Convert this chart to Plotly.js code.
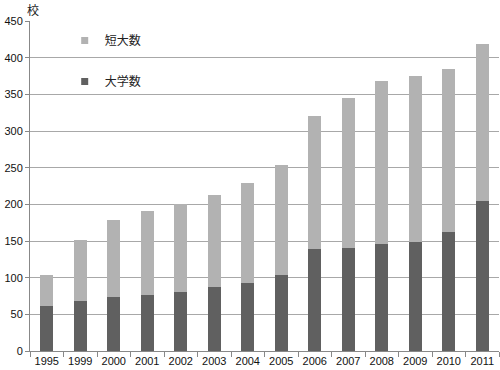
<!DOCTYPE html>
<html><head><meta charset="utf-8">
<script src="https://cdn.plot.ly/plotly-3.0.1.min.js"></script>
<style>body{margin:0}#c{width:500px;height:370px}</style>
</head><body><div id="c"></div>
<script>
const years = ['1995','1999','2000','2001','2002','2003','2004','2005','2006','2007','2008','2009','2010','2011'];
const univ = [62,68,74,77,81,87,93,103,139,140,146,148,162,204];
const junior = [41,84,104,114,120,126,136,151,181,205,222,227,222,214];
const yTicks = [0,50,100,150,200,250,300,350,400,450];

const font = {family:'"Liberation Sans", Arial, sans-serif', size:11, color:'#111'};
const cjk = {family:'"Noto Sans CJK JP", sans-serif', size:12, color:'#222'};
const data = [
  {type:'bar', x:years, y:univ, name:'大学数', marker:{color:'#606060', line:{width:0}}, width:0.4, showlegend:false},
  {type:'bar', x:years, y:junior, name:'短大数', marker:{color:'#b2b2b2', line:{width:0}}, width:0.4, showlegend:false},
  {type:'scatter', mode:'markers', x:[years[0]], y:[null], name:'大学数', legendgroup:'a', legendrank:2,
   marker:{symbol:'square', size:7, color:'#606060'}},
  {type:'scatter', mode:'markers', x:[years[0]], y:[null], name:'短大数', legendgroup:'b', legendrank:1,
   marker:{symbol:'square', size:7, color:'#b2b2b2'}}
];
const layout = {
  width:500, height:370, barmode:'stack',
  margin:{l:30, r:1, t:21, b:19},
  paper_bgcolor:'#fff', plot_bgcolor:'#fff',
  font:font, bargap:0.6,
  xaxis:{type:'category', range:[-0.5, years.length-0.5], autorange:false, tickangle:0,
         tickson:'boundaries', ticks:'outside', ticklen:5, tickcolor:'#888',
         showline:true, linecolor:'#888', linewidth:1, showgrid:false, tickfont:font, fixedrange:true},
  yaxis:{range:[0,450], autorange:false, tickvals:yTicks, ticks:'outside', ticklen:4, tickcolor:'#888',
         showline:true, linecolor:'#888', gridcolor:'#a8a8a8', gridwidth:1, zeroline:false, tickfont:font},
  showlegend:true,
  legend:{x:0.074, y:0.985, xanchor:'left', yanchor:'top', bgcolor:'rgba(0,0,0,0)', font:cjk,
          itemwidth:30, tracegroupgap:22, traceorder:'grouped'},
  annotations:[{xref:'paper', yref:'paper', x:0, y:1, xanchor:'center', yanchor:'middle', xshift:3, yshift:12, showarrow:false,
     borderpad:0, text:'校', font:{family:'"Noto Sans CJK JP", sans-serif', size:12, color:'#222'}}]
};
Plotly.newPlot('c', data, layout, {displayModeBar:false, staticPlot:true});
</script></body></html>
